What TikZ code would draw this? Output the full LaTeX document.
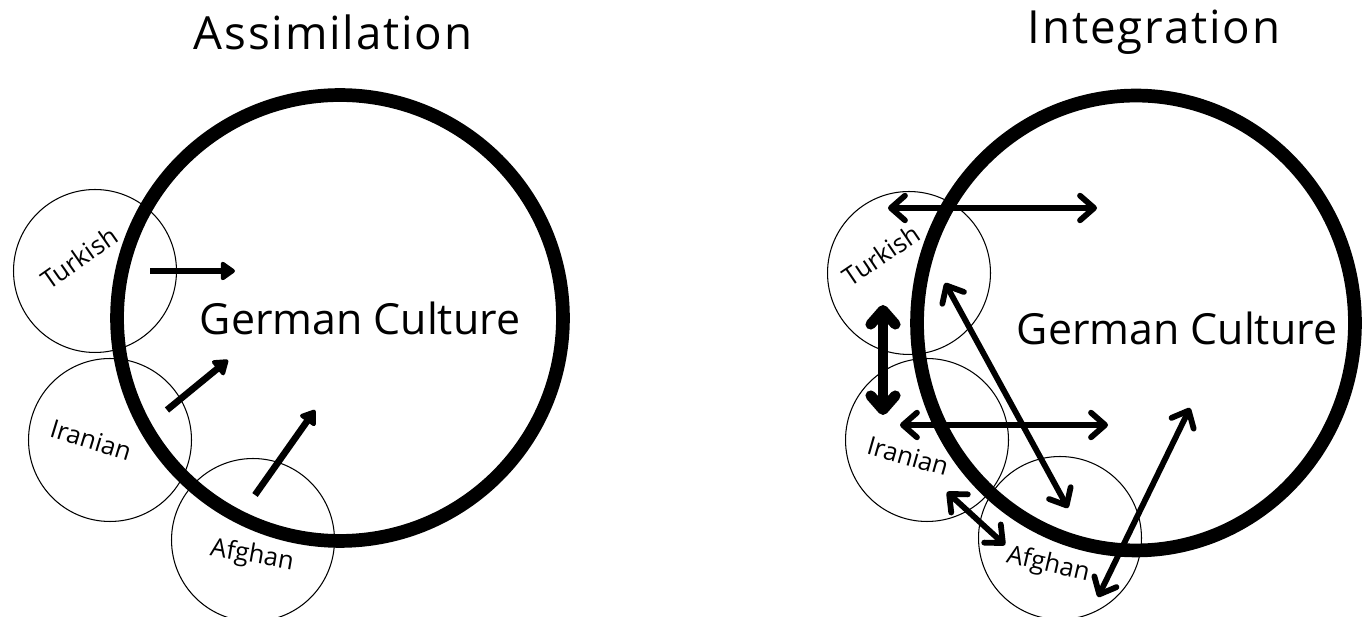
\documentclass[tikz,border=0pt]{standalone}
\usepackage{fontspec}
\setsansfont{Open Sans}
\newfontfamily\headfont[LetterSpace=4]{Open Sans}
\usetikzlibrary{arrows.meta, shapes.geometric}

\begin{document}
\begin{tikzpicture}[
    x=0.02cm, y=-0.02cm,
    font=\sffamily,
    ring/.style={draw, line width=7.8pt, inner sep=0pt},
    group/.style={circle, draw, line width=0.6pt, inner sep=0pt, minimum size=3.26cm},
    tag/.style={font=\sffamily\fontsize{14.5}{16}\selectfont, inner sep=0pt},
    heading/.style={font=\headfont\fontsize{26}{30}\selectfont},
    culture/.style={font=\sffamily\fontsize{24.4}{28}\selectfont},
    push/.style={-{Triangle[round, length=9pt, width=12pt]}, line width=3.8pt},
    swap/.style={{Straight Barb[round, length=8pt, width=14pt]}-{Straight Barb[round, length=8pt, width=14pt]}, line width=3.3pt},
]
\useasboundingbox (0,0) rectangle (1363,617);

% ---- Assimilation (left) ----
\node[heading] (titleA) at (333,32) {Assimilation};

\node[group] (turkA) at (95,271) {};
\node[group] (iranA) at (110,440) {};
\node[group] (afghA) at (253,540) {};
\node[ring, circle, minimum size=8.92cm] (cultA) at (340,318) {};

\node[tag, rotate=35] (turkAtag) at (79,258) {Turkish};
\node[tag, rotate=-17] (iranAtag) at (91,440) {Iranian};
\node[tag, rotate=-10] (afghAtag) at (252,556) {Afghan};
\node[culture] (germA) at (360,318) {German Culture};

% arrow ends
\coordinate (tA1) at (150,271);  \coordinate (tA2) at (235,271);
\coordinate (iA1) at (167,410);  \coordinate (iA2) at (228,360);
\coordinate (aA1) at (255,495);  \coordinate (aA2) at (315,410);

\draw[push] (tA1) -- (tA2);
\draw[push] (iA1) -- (iA2);
\draw[push] (aA1) -- (aA2);

% ---- Integration (right) ----
\node[heading] (titleB) at (1154,32) {Integration};

\node[group] (turkB) at (909,273) {};
\node[group] (iranB) at (927,440) {};
\node[group] (afghB) at (1060,538) {};
\node[ring, ellipse, minimum width=8.76cm, minimum height=9.1cm] (cultB) at (1136,323) {};

\node[tag, rotate=34] (turkBtag) at (881,255) {Turkish};
\node[tag, rotate=-16] (iranBtag) at (908,456) {Iranian};
\node[tag, rotate=-13] (afghBtag) at (1048,565) {Afghan};
\node[culture] (germB) at (1177,328) {German Culture};

% arrow ends
\coordinate (tB1) at (888,208);  \coordinate (tB2) at (1097,208);
\coordinate (tB3) at (883,305);  \coordinate (iB1) at (883,415);
\coordinate (iB2) at (900,425);  \coordinate (iB3) at (1108,425);
\coordinate (tB4) at (945,283);  \coordinate (aB1) at (1068,508);
\coordinate (iB4) at (947,492);  \coordinate (aB2) at (1005,545);
\coordinate (aB3) at (1098,597); \coordinate (gB1) at (1190,408);

\draw[swap] (tB1) -- (tB2);
\draw[swap, line width=6pt] (tB3) -- (iB1);
\draw[swap] (iB2) -- (iB3);
\draw[swap] (tB4) -- (aB1);
\draw[swap] (iB4) -- (aB2);
\draw[swap] (aB3) -- (gB1);

\end{tikzpicture}
\end{document}
